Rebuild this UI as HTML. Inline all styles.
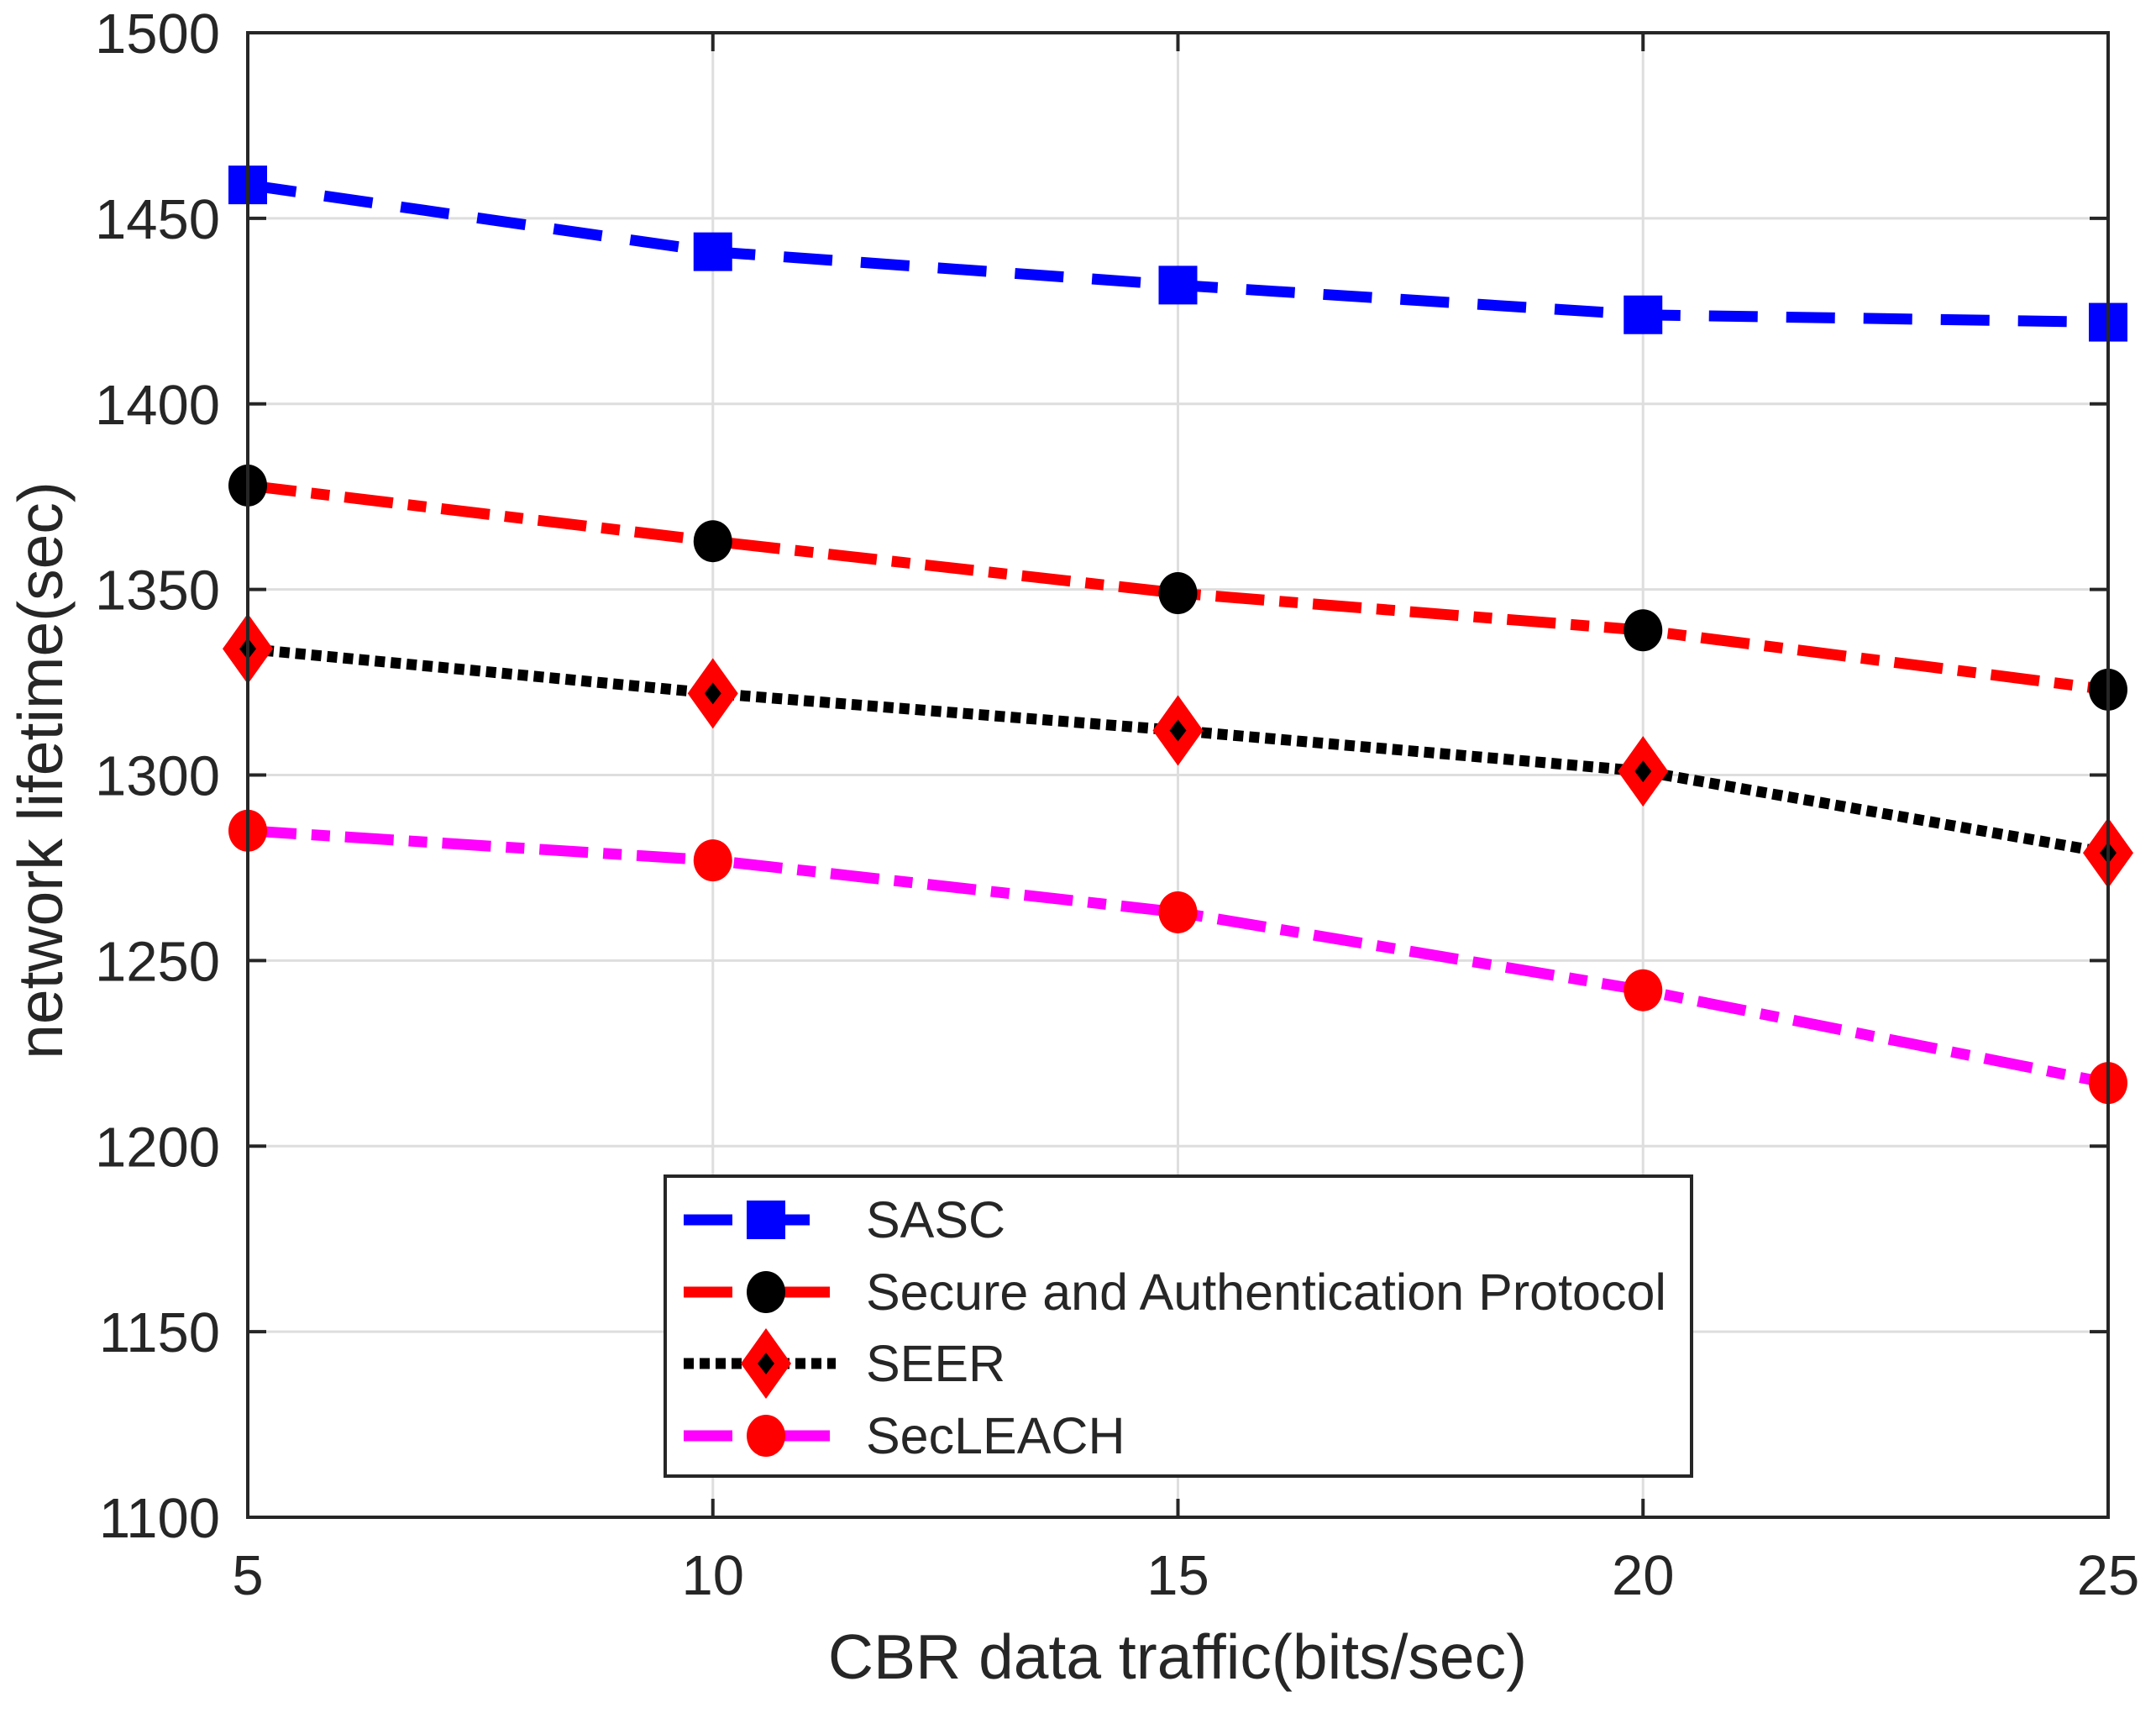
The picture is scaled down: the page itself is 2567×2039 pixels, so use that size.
<!DOCTYPE html>
<html><head><meta charset="utf-8"><style>
html,body{margin:0;padding:0;background:#fff}
svg{display:block}
text{font-family:"Liberation Sans",Arial,sans-serif;fill:#262626}
</style></head><body>
<svg id="chart" width="2567" height="2039" viewBox="0 0 2567 2039">
<g id="grid"></g>
<g id="series"></g>
<rect x="295" y="39" width="2215" height="1767" fill="none" stroke="#262626" stroke-width="4"/>
<g id="ticks"></g>
<text x="1402" y="1998" font-size="75" text-anchor="middle">CBR data traffic(bits/sec)</text>
<text transform="translate(74,917) rotate(-90)" font-size="75" text-anchor="middle">network lifetime(sec)</text>
<g id="legend">
<rect x="792" y="1400" width="1222" height="357" fill="#fff" stroke="#262626" stroke-width="4"/>
</g>
</svg>
<script>
const categories = [5, 10, 15, 20, 25];
const sascValues = [1459, 1441, 1432, 1424, 1422];
const secureValues = [1378, 1363, 1349, 1339, 1323];
const seerValues = [1334, 1322, 1312, 1301, 1279];
const secleachValues = [1285, 1277, 1263, 1242, 1217];
const yTicks = [1100, 1150, 1200, 1250, 1300, 1350, 1400, 1450, 1500];
const xTicks = [5, 10, 15, 20, 25];
const seriesNames = ['SASC', 'Secure and Authentication Protocol', 'SEER', 'SecLEACH'];

const NS = 'http://www.w3.org/2000/svg';
const L = 295, R = 2510, T = 39, B = 1806;
const xs = v => L + (v - 5) / 20 * (R - L);
const ys = v => B - (v - 1100) / 400 * (B - T);
function mk(tag, attrs, parent) {
  const e = document.createElementNS(NS, tag);
  for (const k in attrs) e.setAttribute(k, attrs[k]);
  parent.appendChild(e);
  return e;
}
const grid = document.getElementById('grid');
const ticks = document.getElementById('ticks');
yTicks.forEach(v => {
  const g = mk('line', {x1: L, x2: R, y1: ys(v), y2: ys(v), stroke: '#dedede', 'stroke-width': 3}, grid);
  
  
  mk('line', {x1: L, x2: L + 22, y1: ys(v), y2: ys(v), stroke: '#262626', 'stroke-width': 4}, ticks);
  mk('line', {x1: R, x2: R - 22, y1: ys(v), y2: ys(v), stroke: '#262626', 'stroke-width': 4}, ticks);
  const t = mk('text', {x: 262, y: ys(v) + 24, 'font-size': 67, 'text-anchor': 'end'}, ticks);
  t.textContent = v;
  
  
});
xTicks.forEach(v => {
  const g = mk('line', {x1: xs(v), x2: xs(v), y1: T, y2: B, stroke: '#dedede', 'stroke-width': 3}, grid);
  
  
  mk('line', {x1: xs(v), x2: xs(v), y1: B, y2: B - 22, stroke: '#262626', 'stroke-width': 4}, ticks);
  mk('line', {x1: xs(v), x2: xs(v), y1: T, y2: T + 22, stroke: '#262626', 'stroke-width': 4}, ticks);
  const t = mk('text', {x: xs(v), y: 1898, 'font-size': 67, 'text-anchor': 'middle'}, ticks);
  t.textContent = v;
  
  
});

const styles = [
  {vals: sascValues, color: '#0000ff', dash: '58 34', marker: 'square', mfill: '#0000ff'},
  {vals: secureValues, color: '#ff0000', dash: '58 18 22 18', marker: 'circle', mfill: '#000'},
  {vals: seerValues, color: '#000', dash: '12 7', marker: 'diamond', mfill: '#ff0000'},
  {vals: secleachValues, color: '#ff00ff', dash: '58 18 22 18', marker: 'circle', mfill: '#ff0000'}
];
function marker(g, type, x, y, fill) {
  let m;
  if (type === 'square') m = mk('rect', {x: x - 23, y: y - 23, width: 46, height: 46, fill: fill}, g);
  else if (type === 'circle') m = mk('ellipse', {cx: x, cy: y, rx: 23, ry: 25, fill: fill}, g);
  else {
    m = mk('polygon', {points: `${x},${y-42} ${x+30},${y} ${x},${y+42} ${x-30},${y}`, fill: fill}, g);
    mk('polygon', {points: `${x},${y-13} ${x+10},${y} ${x},${y+13} ${x-10},${y}`, fill: '#000'}, g);
  }
  return m;
}
const sl = document.getElementById('series');
styles.forEach((s, i) => {
  const g = mk('g', {}, sl);
  
  
  const pts = s.vals.map((v, j) => xs(categories[j]) + ',' + ys(v)).join(' ');
  const pl = mk('polyline', {points: pts, fill: 'none', stroke: s.color, 'stroke-width': 13, 'stroke-dasharray': s.dash}, g);
  
  
  s.vals.forEach((v, j) => {
    const m = marker(g, s.marker, xs(categories[j]), ys(v), s.mfill);
    
    
  });
});

const lg = document.getElementById('legend');
const ly = [1452, 1538, 1623, 1709];
styles.forEach((s, i) => {
  const g = mk('g', {}, lg);
  
  
  mk('line', {x1: 814, x2: 995, y1: ly[i], y2: ly[i], stroke: s.color, 'stroke-width': 13, 'stroke-dasharray': s.dash}, g);
  marker(g, s.marker, 912, ly[i], s.mfill);
  const t = mk('text', {x: 1031, y: ly[i] + 21, 'font-size': 61}, g);
  t.textContent = seriesNames[i];
});
</script>
</body></html>
